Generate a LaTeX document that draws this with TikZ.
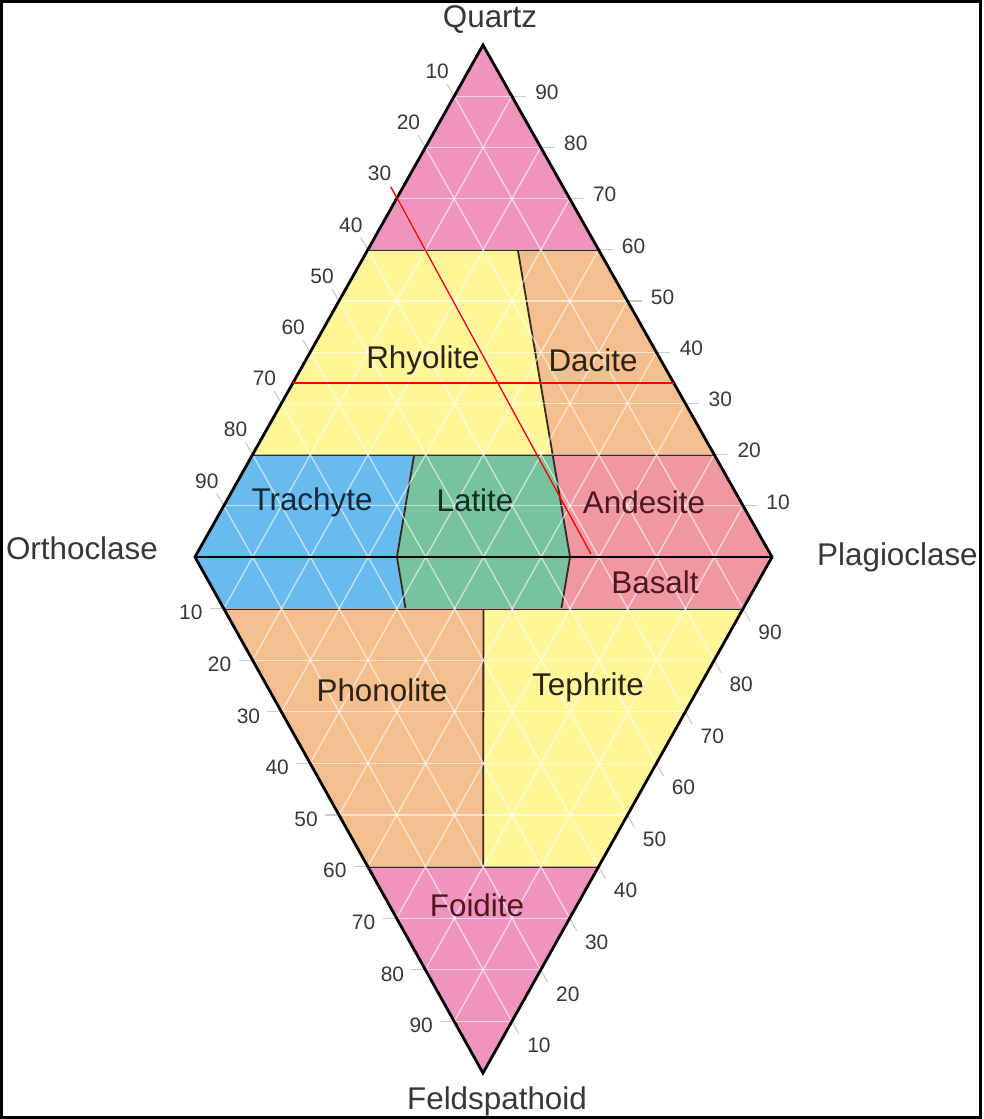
\documentclass[tikz,border=0pt]{standalone}
\usepackage{fontspec}
\setmainfont{Liberation Sans}
\usetikzlibrary{positioning,calc}

\definecolor{quartzpink}{RGB}{238,148,190}
\definecolor{paleyellow}{RGB}{255,246,152}
\definecolor{softorange}{RGB}{244,190,142}
\definecolor{rosered}{RGB}{240,152,162}
\definecolor{skyblue}{RGB}{104,187,236}
\definecolor{seagreen}{RGB}{120,195,157}
\definecolor{inkgray}{RGB}{55,55,55}
\definecolor{fieldline}{RGB}{58,40,34}
\definecolor{darkbrown}{RGB}{45,35,20}
\definecolor{darkmaroon}{RGB}{80,22,30}
\definecolor{darknavy}{RGB}{18,42,62}
\definecolor{darkpine}{RGB}{18,48,36}

\tikzset{
    field/.style={
        fill=#1,                  % relleno del campo
        draw=none                 % sin borde: los límites van aparte
    },
    limit/.style={
        draw=fieldline,           % límite entre campos, marrón muy oscuro
        line width=1.8bp
    },
    gridline/.style={
        draw=white,               % retícula blanca
        opacity=0.6,              % semitransparente sobre los colores
        line width=1.3bp
    },
    tickline/.style={
        draw=black!20,            % prolongación gris fuera del rombo
        line width=1.2bp
    },
    edgeline/.style={
        draw=black,
        line width=2.8bp,         % contorno grueso
        line join=miter
    },
    rocklabel/.style={
        text=#1,                  % color del nombre de la roca
        font=\fontsize{31.5}{36}\selectfont,
        inner sep=0pt
    },
    ticklabel/.style={
        text=inkgray,
        font=\fontsize{21}{24}\selectfont,
        inner sep=0pt
    },
    apexlabel/.style={
        text=inkgray,
        font=\fontsize{31.5}{36}\selectfont,
        inner sep=0pt
    },
    markline/.style={
        draw=red,                 % trazos rojos de lectura
        line width=1.3bp
    }
}

\begin{document}
\begin{tikzpicture}[x=1bp,y=-1bp]
\useasboundingbox (0,0) rectangle (984,1119);
\draw[line width=3bp] (1.5,1.5) rectangle (980,1117.5);

\coordinate (Q) at (483,45);
\coordinate (A) at (195,557);
\coordinate (P) at (772,557);
\coordinate (F) at (483,1073);

\coordinate (q60l) at ($(Q)!0.4!(A)$);
\coordinate (q60r) at ($(Q)!0.4!(P)$);
\coordinate (q20l) at ($(Q)!0.8!(A)$);
\coordinate (q20r) at ($(Q)!0.8!(P)$);
\coordinate (f10l) at ($(A)!0.1!(F)$);
\coordinate (f10r) at ($(P)!0.1!(F)$);
\coordinate (f60l) at ($(A)!0.6!(F)$);
\coordinate (f60r) at ($(P)!0.6!(F)$);
\coordinate (rd1) at ($(q60l)!0.65!(q60r)$);
\coordinate (rd2) at ($(q20l)!0.65!(q20r)$);
\coordinate (la1) at ($(q20l)!0.35!(q20r)$);
\coordinate (la2) at ($(A)!0.35!(P)$);
\coordinate (la3) at ($(f10l)!0.35!(f10r)$);
\coordinate (an2) at ($(A)!0.65!(P)$);
\coordinate (an3) at ($(f10l)!0.65!(f10r)$);
\coordinate (ph1) at ($(f10l)!0.5!(f10r)$);
\coordinate (ph2) at ($(f60l)!0.5!(f60r)$);

\fill[field=quartzpink] (Q) -- (q60l) -- (q60r) -- cycle;
\fill[field=paleyellow] (q60l) -- (rd1) -- (rd2) -- (q20l) -- cycle;
\fill[field=softorange] (rd1) -- (q60r) -- (q20r) -- (rd2) -- cycle;
\fill[field=skyblue] (q20l) -- (la1) -- (la2) -- (la3) -- (f10l) -- (A) -- cycle;
\fill[field=seagreen] (la1) -- (rd2) -- (an2) -- (an3) -- (la3) -- (la2) -- cycle;
\fill[field=rosered] (rd2) -- (q20r) -- (P) -- (f10r) -- (an3) -- (an2) -- cycle;
\fill[field=softorange] (f10l) -- (ph1) -- (ph2) -- (f60l) -- cycle;
\fill[field=paleyellow] (ph1) -- (f10r) -- (f60r) -- (ph2) -- cycle;
\fill[field=quartzpink] (f60l) -- (f60r) -- (F) -- cycle;

\draw[limit] (q60l) -- (q60r);
\draw[limit] (rd1) -- (rd2);
\draw[limit] (q20l) -- (q20r);
\draw[limit] (la1) -- (la2) -- (la3);
\draw[limit] (rd2) -- (an2) -- (an3);
\draw[limit] (f10l) -- (f10r);
\draw[limit] (ph1) -- (ph2);
\draw[limit] (f60l) -- (f60r);

\foreach \k in {1,...,9}{
  \draw[gridline] ($(Q)!\k/10!(A)$) -- ($(Q)!\k/10!(P)$);
  \draw[gridline] ($(A)!\k/10!(P)$) -- ($(Q)!\k/10!(P)$);
  \draw[gridline] ($(A)!\k/10!(P)$) -- ($(A)!\k/10!(Q)$);
  \draw[gridline] ($(A)!\k/10!(F)$) -- ($(P)!\k/10!(F)$);
  \draw[gridline] ($(A)!\k/10!(P)$) -- ($(F)!\k/10!(P)$);
  \draw[gridline] ($(A)!\k/10!(P)$) -- ($(A)!\k/10!(F)$);
}

\foreach \k/\lo/\hi in {1/10/90,2/20/80,3/30/70,4/40/60,5/50/50,6/60/40,7/70/30,8/80/20,9/90/10}{
  \draw[tickline] ($(Q)!\k/10!(A)$) -- ++(-7,-12);
  \draw[tickline] ($(Q)!\k/10!(P)$) -- ++(14,0);
  \draw[tickline] ($(A)!\k/10!(F)$) -- ++(-14,0);
  \draw[tickline] ($(P)!\k/10!(F)$) -- ++(7,12.5);
  \node[ticklabel] (ql\k) at ($(Q)!\k/10!(A)+(-17,-25)$) {\lo};
  \node[ticklabel] (qr\k) at ($(Q)!\k/10!(P)+(35,-4)$) {\hi};
  \node[ticklabel] (fl\k) at ($(A)!\k/10!(F)+(-33,4)$) {\lo};
  \node[ticklabel] (fr\k) at ($(P)!\k/10!(F)+(27,24)$) {\hi};
}

\draw[edgeline] (Q) -- (P) -- (F) -- (A) -- cycle;
\draw[edgeline] (A) -- (P);

\coordinate (m1) at (391,187);
\coordinate (m2) at (591,554);
\coordinate (m3) at ($(Q)!0.66!(A)$);
\coordinate (m4) at ($(Q)!0.66!(P)$);
\draw[markline] (m1) -- (m2);
\draw[markline] (m3) -- (m4);

\node[rocklabel=darkbrown] (rhy) at (423,360) {Rhyolite};
\node[rocklabel=darkbrown] (dac) at (593,360) {Dacite};
\node[rocklabel=darknavy] (tra) at (312,502) {Trachyte};
\node[rocklabel=darkpine] (lat) at (475,500) {Latite};
\node[rocklabel=darkmaroon] (and) at (644,502) {Andesite};
\node[rocklabel=darkmaroon] (bas) at (655,582) {Basalt};
\node[rocklabel=darkbrown] (pho) at (382,690) {Phonolite};
\node[rocklabel=darkbrown] (tep) at (588,687) {Tephrite};
\node[rocklabel=darkmaroon] (foi) at (477,905) {Foidite};

\node[apexlabel, above=11bp of Q, xshift=7bp] (quartz) {Quartz};
\node[apexlabel, left=37bp of A, yshift=9bp] (ortho) {Orthoclase};
\node[apexlabel, right=45bp of P] (plagio) {Plagioclase};
\node[apexlabel, below=14bp of F, xshift=14bp] (feld) {Feldspathoid};
\end{tikzpicture}
\end{document}
